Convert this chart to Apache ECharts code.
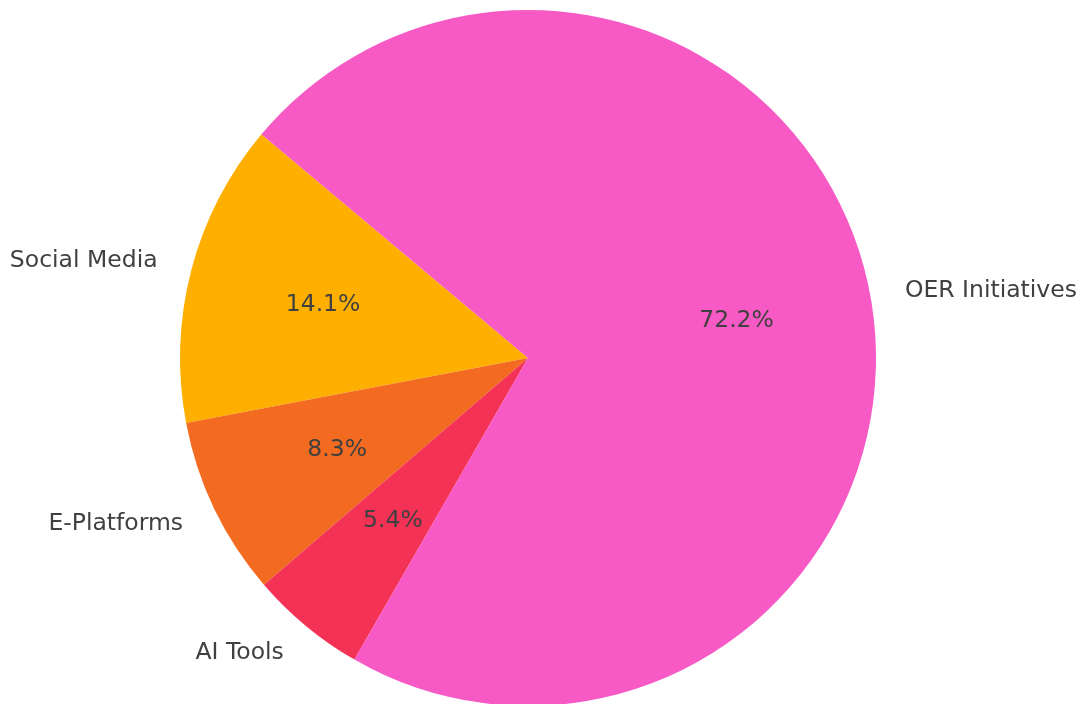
<!DOCTYPE html>
<html>
<head>
<meta charset="utf-8">
<script src="https://cdn.jsdelivr.net/npm/echarts@6/dist/echarts.min.js"></script>
<style>
html,body{margin:0;padding:0;background:#fff;}
#chart{width:1080px;height:704px;}
</style>
</head>
<body>
<div id="chart"></div>
<script>
const categories = ['Social Media', 'E-Platforms', 'AI Tools', 'OER Initiatives'];
const values = [14.1, 8.3, 5.4, 72.2];
const colors = ['#feaf00', '#f26b21', '#f43256', '#f75ac5'];

const R = 348;
const center = [528, 358];
const fontFamily = 'DejaVu Sans';
const textColor = '#404040';

const data = categories.map((c, i) => ({ name: c, value: values[i], itemStyle: { color: colors[i] } }));

const chart = echarts.init(document.getElementById('chart'), null, { renderer: 'canvas' });
chart.setOption({
  backgroundColor: '#ffffff',
  animation: false,
  series: [
    {
      type: 'pie',
      center: center,
      radius: [0, R],
      startAngle: 140,
      clockwise: false,
      bleedMargin: 0,
      avoidLabelOverlap: false,
      silent: true,
      data: data,
      itemStyle: { borderWidth: 0 },
      label: {
        show: true,
        position: 'outside',
        formatter: '{b}',
        color: textColor,
        fontFamily: fontFamily,
        fontSize: 23.5,
        padding: [4, 0, 0, 0],
        distanceToLabelLine: 0,
        overflow: 'none'
      },
      labelLine: { show: false, length: R * 0.1, length2: 0 }
    },
    {
      type: 'pie',
      center: center,
      radius: [R * 0.2, R],
      startAngle: 140,
      clockwise: false,
      silent: true,
      data: data.map(d => ({ name: d.name, value: d.value, itemStyle: { color: 'rgba(0,0,0,0)' } })),
      itemStyle: { borderWidth: 0 },
      label: {
        show: true,
        position: 'inside',
        formatter: p => p.value.toFixed(1) + '%',
        color: textColor,
        fontFamily: fontFamily,
        fontSize: 23.5,
        padding: [4, 0, 0, 0]
      },
      labelLine: { show: false }
    }
  ]
});
</script>
</body>
</html>
